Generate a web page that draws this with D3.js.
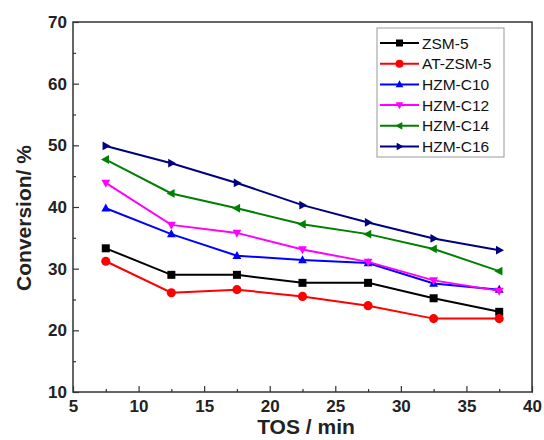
<!doctype html>
<html>
<head>
<meta charset="utf-8">
<title>Conversion vs TOS</title>
<style>
  body { margin: 0; background: #fff; }
  svg { font-family: "Liberation Sans", Arial, sans-serif; }
</style>
</head>
<body>
<svg id="chart"></svg>
<script src="https://cdn.jsdelivr.net/npm/d3@7/dist/d3.min.js"></script>
<script>
// TOS / min
const tos = [7.5, 12.5, 17.5, 22.5, 27.5, 32.5, 37.5];

// conversion / %
const zsm5   = [33.3, 29.0, 29.0, 27.7, 27.7, 25.2, 23.0];
const atZsm5 = [31.2, 26.1, 26.6, 25.5, 24.0, 21.9, 21.9];
const hzmC10 = [39.8, 35.6, 32.1, 31.4, 30.9, 27.6, 26.6];
const hzmC12 = [43.9, 37.1, 35.8, 33.1, 31.1, 28.1, 26.4];
const hzmC14 = [47.7, 42.2, 39.8, 37.2, 35.6, 33.2, 29.6];
const hzmC16 = [49.9, 47.1, 43.9, 40.3, 37.5, 34.9, 33.0];

const seriesNames = ["ZSM-5", "AT-ZSM-5", "HZM-C10", "HZM-C12", "HZM-C14", "HZM-C16"];
const seriesValues = [zsm5, atZsm5, hzmC10, hzmC12, hzmC14, hzmC16];
const colors = ["#000000", "#ff0000", "#0000ff", "#ff00ff", "#008000", "#000080"];
const markers = ["square", "circle", "up", "down", "left", "right"];

const xTicks = [5, 10, 15, 20, 25, 30, 35, 40];
const yTicks = [10, 20, 30, 40, 50, 60, 70];

const width = 544, height = 440;
const plotL = 73, plotR = 532, plotT = 22, plotB = 392;

const svg = d3.select("#chart").attr("width", width).attr("height", height);

const x = d3.scaleLinear().domain([5, 40]).range([plotL, plotR]);
const y = d3.scaleLinear().domain([10, 70]).range([plotB, plotT]);

// frame
svg.append("rect")
  .attr("x", plotL).attr("y", plotT)
  .attr("width", plotR - plotL).attr("height", plotB - plotT)
  .attr("fill", "none").attr("stroke", "#333").attr("stroke-width", 1.5);
svg.append("line")
  .attr("x1", plotR + 0.5).attr("x2", plotR + 0.5)
  .attr("y1", plotT).attr("y2", plotB + 1)
  .attr("stroke", "#555").attr("stroke-width", 1);

// axes (inward ticks)
const xAxis = d3.axisBottom(x).tickValues(xTicks).tickSize(-6).tickPadding(8).tickFormat(d3.format("d"));
const xMinor = d3.axisBottom(x).tickValues(d3.range(7.5, 40, 5)).tickSize(-3).tickFormat("");
const yAxis = d3.axisLeft(y).tickValues(yTicks).tickSize(-6).tickPadding(6).tickFormat(d3.format("d"));
const yMinor = d3.axisLeft(y).tickValues(d3.range(15, 70, 10)).tickSize(-3).tickFormat("");

function styleAxis(g) {
  g.select(".domain").remove();
  g.selectAll("line").attr("stroke", "#333").attr("stroke-width", 1.2);
  g.selectAll("text").attr("font-size", 17).attr("font-weight", "bold").attr("fill", "#222");
}

svg.append("g").attr("transform", `translate(0,${plotB})`).call(xAxis).call(styleAxis);
svg.append("g").attr("transform", `translate(0,${plotB})`).call(xMinor).call(styleAxis);
svg.append("g").attr("transform", `translate(${plotL},0)`).call(yAxis).call(styleAxis);
svg.append("g").attr("transform", `translate(${plotL},0)`).call(yMinor).call(styleAxis);

// axis titles
svg.append("text")
  .attr("x", 306).attr("y", 434)
  .attr("text-anchor", "middle")
  .attr("font-size", 21).attr("font-weight", "bold").attr("fill", "#222")
  .text("TOS / min");
svg.append("text")
  .attr("transform", `translate(31,218) rotate(-90)`)
  .attr("text-anchor", "middle")
  .attr("font-size", 21).attr("font-weight", "bold").attr("fill", "#222")
  .text("Conversion/ %");

// marker paths
function markerPath(type, s) {
  switch (type) {
    case "square": return `M${-s},${-s}H${s}V${s}H${-s}Z`;
    case "circle": return d3.symbol(d3.symbolCircle, Math.PI * s * s * 1.3)();
    case "up": return `M0,${-s * 1.2}L${s * 1.1},${s * 0.8}L${-s * 1.1},${s * 0.8}Z`;
    case "down": return `M0,${s * 1.2}L${s * 1.1},${-s * 0.8}L${-s * 1.1},${-s * 0.8}Z`;
    case "left": return `M${-s * 1.2},0L${s * 0.8},${-s * 1.1}L${s * 0.8},${s * 1.1}Z`;
    case "right": return `M${s * 1.2},0L${-s * 0.8},${-s * 1.1}L${-s * 0.8},${s * 1.1}Z`;
  }
}

const line = d3.line().x((d, i) => x(tos[i])).y(d => y(d));

seriesValues.forEach((vals, k) => {
  svg.append("path")
    .datum(vals)
    .attr("fill", "none")
    .attr("stroke", colors[k])
    .attr("stroke-width", 2)
    .attr("d", line);
  svg.append("g").selectAll("path")
    .data(vals)
    .join("path")
    .attr("transform", (d, i) => `translate(${x(tos[i])},${y(d)})`)
    .attr("d", markerPath(markers[k], 4))
    .attr("fill", colors[k]);
});

// legend
const legend = svg.append("g");
legend.append("rect")
  .attr("x", 377).attr("y", 28).attr("width", 127).attr("height", 129)
  .attr("fill", "#fff").attr("stroke", "#999").attr("stroke-width", 1);
seriesNames.forEach((name, k) => {
  const ly = 43 + k * 20.7;
  legend.append("line")
    .attr("x1", 380).attr("x2", 419).attr("y1", ly).attr("y2", ly)
    .attr("stroke", colors[k]).attr("stroke-width", 2);
  legend.append("path")
    .attr("transform", `translate(399.5,${ly})`)
    .attr("d", markerPath(markers[k], 3.5))
    .attr("fill", colors[k]);
  legend.append("text")
    .attr("x", 422).attr("y", ly + 5.5)
    .attr("font-size", 15.5).attr("fill", "#111")
    .text(name);
});
</script>
</body>
</html>
